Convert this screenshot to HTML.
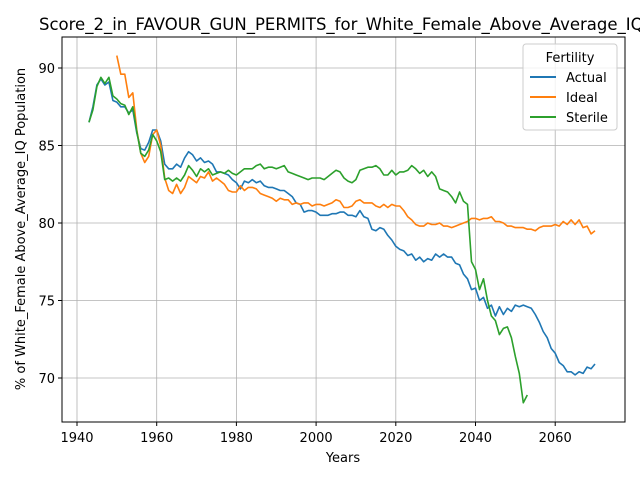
<!DOCTYPE html>
<html><head><meta charset="utf-8"><style>
body{margin:0;background:#fff;width:640px;height:480px;overflow:hidden}
text{font-family:"DejaVu Sans","Liberation Sans",sans-serif}
</style></head><body>
<svg id="c" width="640" height="480">
<text x="39" y="30" font-size="16.5">Score_2_in_FAVOUR_GUN_PERMITS_for_White_Female_Above_Average_IQ_Population</text>
<g id="grid"></g><g id="ticks"></g><g id="lines"></g>
<rect x="62" y="37" width="563" height="385" fill="none" stroke="#000" stroke-width="1"/>
<text x="343" y="462" font-size="13" text-anchor="middle">Years</text>
<text transform="translate(25,229) rotate(-90)" font-size="13" text-anchor="middle">% of White_Female Above_Average_IQ Population</text>
<g>
<rect x="523" y="44" width="94" height="86" rx="3" fill="#fff" fill-opacity="0.8" stroke="#ccc"/>
<text x="570" y="62" font-size="13" text-anchor="middle">Fertility</text>
<line x1="530" y1="77" x2="556" y2="77" stroke="#1f77b4" stroke-width="2"/><text x="566" y="82" font-size="13">Actual</text>
<line x1="530" y1="97" x2="556" y2="97" stroke="#ff7f0e" stroke-width="2"/><text x="566" y="102" font-size="13">Ideal</text>
<line x1="530" y1="117" x2="556" y2="117" stroke="#2ca02c" stroke-width="2"/><text x="566" y="122" font-size="13">Sterile</text>
</g>
</svg>
<script>
const xTicks=[1940,1960,1980,2000,2020,2040,2060];
const yTicks=[70,75,80,85,90];
const actualEnd=2070;
const actual=[86.5,87.5,88.9,89.3,88.9,89.1,87.9,87.8,87.5,87.5,87.1,87.3,85.8,84.8,84.7,85.2,86.0,86.0,85.3,83.8,83.5,83.5,83.8,83.6,84.2,84.6,84.4,84.0,84.2,83.9,84.0,83.8,83.3,83.3,83.2,83.1,82.8,82.6,82.2,82.7,82.6,82.8,82.6,82.7,82.4,82.3,82.3,82.2,82.1,82.1,81.9,81.7,81.3,81.2,80.7,80.8,80.8,80.7,80.5,80.5,80.5,80.6,80.6,80.7,80.7,80.5,80.5,80.4,80.8,80.4,80.3,79.6,79.5,79.7,79.6,79.2,78.9,78.5,78.3,78.2,77.9,78.0,77.6,77.8,77.5,77.7,77.6,78.0,77.8,78.0,77.8,77.8,77.4,77.3,76.7,76.4,75.7,75.8,75.0,75.2,74.5,74.7,74.0,74.6,74.1,74.5,74.3,74.7,74.6,74.7,74.6,74.5,74.1,73.6,73.0,72.6,71.9,71.6,71.0,70.8,70.4,70.4,70.2,70.4,70.3,70.7,70.6,70.9];
const idealEnd=2070;
const ideal=[90.8,89.6,89.6,88.1,88.4,86.0,84.5,83.9,84.3,85.7,86.0,85.0,82.9,82.1,81.9,82.5,81.9,82.3,83.0,82.8,82.6,83.0,82.9,83.3,82.7,82.9,82.7,82.5,82.1,82.0,82.0,82.4,82.1,82.3,82.3,82.2,81.9,81.8,81.7,81.6,81.4,81.6,81.5,81.5,81.2,81.3,81.2,81.3,81.3,81.1,81.2,81.2,81.1,81.2,81.3,81.5,81.4,81.0,81.0,81.1,81.4,81.5,81.3,81.3,81.3,81.1,81.0,81.2,81.0,81.2,81.1,81.1,80.8,80.4,80.2,79.9,79.8,79.8,80.0,79.9,79.9,80.0,79.8,79.8,79.7,79.8,79.9,80.0,80.1,80.3,80.3,80.2,80.3,80.3,80.4,80.1,80.1,80.0,79.8,79.8,79.7,79.7,79.7,79.6,79.6,79.5,79.7,79.8,79.8,79.8,79.9,79.8,80.1,79.9,80.2,79.9,80.2,79.7,79.8,79.3,79.5];
const sterileEnd=2053;
const sterile=[86.5,87.3,88.8,89.4,89.0,89.4,88.2,88.0,87.7,87.6,87.0,87.5,85.9,84.5,84.3,84.7,85.7,85.3,84.6,82.8,82.9,82.7,82.9,82.7,83.1,83.7,83.4,83.0,83.5,83.3,83.5,83.1,83.2,83.3,83.2,83.4,83.2,83.1,83.3,83.5,83.5,83.5,83.7,83.8,83.5,83.6,83.6,83.5,83.6,83.7,83.3,83.2,83.1,83.0,82.9,82.8,82.9,82.9,82.9,82.8,83.0,83.2,83.4,83.3,82.9,82.7,82.6,82.8,83.4,83.5,83.6,83.6,83.7,83.5,83.1,83.1,83.4,83.1,83.3,83.3,83.4,83.7,83.5,83.2,83.4,83.0,83.3,83.0,82.2,82.1,82.0,81.7,81.3,82.0,81.4,81.2,77.5,77.0,75.7,76.4,75.0,74.0,73.7,72.8,73.2,73.3,72.6,71.4,70.3,68.4,68.9];
const NS="http://www.w3.org/2000/svg";
const X=y=>77+(y-1940)*3.985;
const Y=v=>68+(90-v)*15.5;
function mk(t,a,p){const e=document.createElementNS(NS,t);for(const k in a)e.setAttribute(k,a[k]);document.getElementById(p).appendChild(e);return e;}
xTicks.forEach(t=>{
 const g=mk('line',{x1:X(t),x2:X(t),y1:37,y2:422,stroke:'#b0b0b0','stroke-width':0.8},'grid');
 
 
 mk('line',{x1:X(t),x2:X(t),y1:422,y2:426,stroke:'#000'},'ticks');
 const l=mk('text',{x:X(t),y:442,'font-size':13,'text-anchor':'middle'},'ticks');l.textContent=t;
 
 
});
yTicks.forEach(t=>{
 const g=mk('line',{x1:62,x2:625,y1:Y(t),y2:Y(t),stroke:'#b0b0b0','stroke-width':0.8},'grid');
 
 
 mk('line',{x1:58,x2:62,y1:Y(t),y2:Y(t),stroke:'#000'},'ticks');
 const l=mk('text',{x:55,y:Y(t)+5,'font-size':13,'text-anchor':'end'},'ticks');l.textContent=t;
 
 
});
function line(arr,end,col,name){
 const s=end-arr.length+1;
 const p=mk('polyline',{points:arr.map((v,i)=>X(s+i).toFixed(1)+','+Y(v).toFixed(1)).join(' '),fill:'none',stroke:col,'stroke-width':1.6,'stroke-linejoin':'round'},'lines');
 
 
}
line(actual,actualEnd,'#1f77b4','actual-line');
line(ideal,idealEnd,'#ff7f0e','ideal-line');
line(sterile,sterileEnd,'#2ca02c','sterile-line');
</script>
</body></html>
